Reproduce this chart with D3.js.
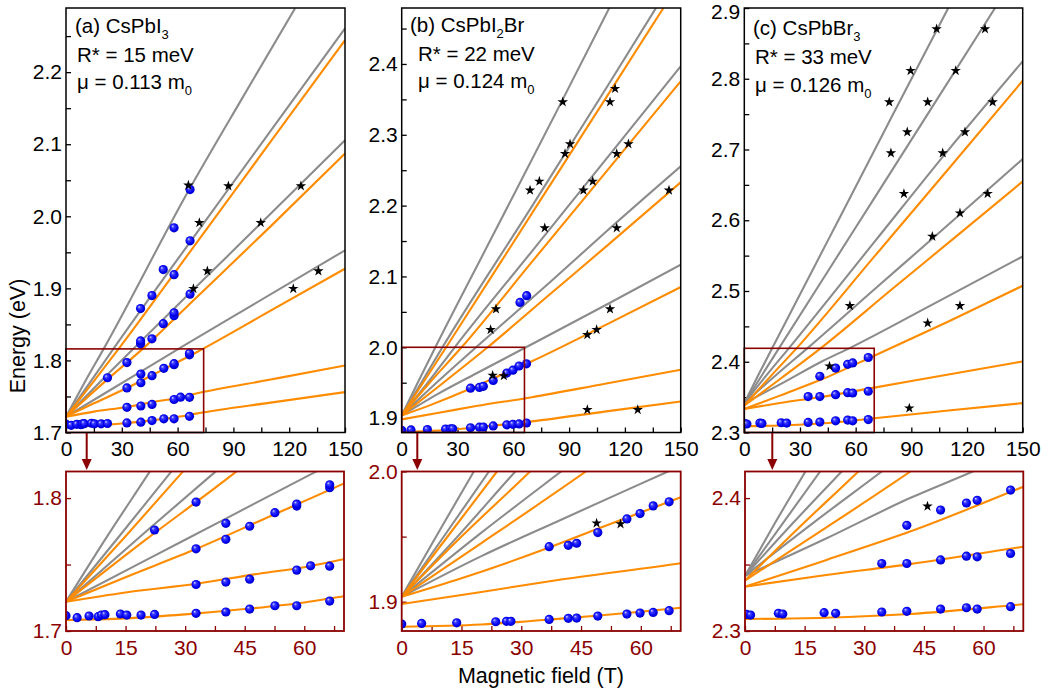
<!DOCTYPE html>
<html><head><meta charset="utf-8">
<script src="https://cdn.jsdelivr.net/npm/d3@7"></script>
<style>
body{margin:0;background:#fff;}
svg text{font-family:"Liberation Sans",Arial,sans-serif;}
</style></head><body>
<svg id="chart" width="1048" height="695"></svg>
<script>
// ---------------- DATA ----------------
const materials = ["CsPbI", "CsPbI", "CsPbBr"];
const materialSubs = ["3", "2", "3"];
const materialTails = ["", "Br", ""];
const panelLetters = ["(a)", "(b)", "(c)"];
const rydbergs = ["R* = 15 meV", "R* = 22 meV", "R* = 33 meV"];
const masses = ["\u03BC = 0.113 m", "\u03BC = 0.124 m", "\u03BC = 0.126 m"];

const xTicksMain = [0, 30, 60, 90, 120, 150];
const xTicksMainMinor = [15, 45, 75, 105, 135];
const xTicksInset = [0, 15, 30, 45, 60];
const xTicksInsetMinor = [7.5, 22.5, 37.5, 52.5, 67.5];
const yTicksA = [1.7, 1.8, 1.9, 2.0, 2.1, 2.2];
const yTicksB = [1.9, 2.0, 2.1, 2.2, 2.3, 2.4];
const yTicksC = [2.3, 2.4, 2.5, 2.6, 2.7, 2.8, 2.9];
const yTicksInsetA = [1.7, 1.8];
const yTicksInsetB = [1.9, 2.0];
const yTicksInsetC = [2.3, 2.4];

// Panel (a) CsPbI3
const dotsA = [
  [0,1.7115],[2.8,1.710],[5.8,1.7113],[8.1,1.7108],[8.9,1.712],[9.8,1.7123],[13.7,1.7128],[15.3,1.712],
  [18.9,1.712],[22.3,1.7125],[32.75,1.7133],[40.25,1.7143],[46.25,1.7165],[52.6,1.719],[58.1,1.719],[66.4,1.7225],
  [32.75,1.735],[40.25,1.7368],[46.25,1.739],[58.1,1.7458],[61.6,1.749],[66.4,1.7488],
  [32.75,1.7618],[40.25,1.769],[46.25,1.7788],[52.6,1.789],[58.1,1.794],[58.1,1.7955],[66.4,1.8078],[66.4,1.810],
  [22.3,1.776],[32.75,1.797],[40.25,1.781],
  [40.1,1.823],[40.1,1.827],[46.2,1.830],[52.3,1.851],[58.1,1.862],[58.1,1.866],[40.1,1.872],[46.2,1.890],
  [66.7,1.892],[52.3,1.926],[58.1,1.919],[66.7,1.966],[58.1,1.984],[66.7,2.037]
];
const starsA = [[65.8,2.043],[87.3,2.042],[126.3,2.042],[71.7,1.991],[104.7,1.991],[76,1.924],[135.7,1.924],[68.5,1.8995],[122.2,1.8995]];
const grayLinesA = [
  [[0,1.722],[20,1.7531],[40,1.7842],[62.7,1.8195],[100,1.8765],[150,1.9528]],
  [[0,1.722],[20,1.7745],[37.5,1.8195],[70,1.9021],[110,2.0036],[150,2.1056]],
  [[0,1.722],[13,1.7698],[26.4,1.8195],[70,1.976],[110,2.1185],[150,2.2606]],
  [[0,1.722],[10,1.7695],[21,1.8195],[66,2.036],[95,2.165],[123.1,2.2884]]
];
const orangeLinesA = [
  [[0,1.7083],[15,1.7095],[30,1.7125],[45,1.7165],[60,1.7215],[70,1.7262],[110,1.7415],[150,1.756]],
  [[0,1.722],[15,1.729],[32.75,1.7355],[48.9,1.7433],[60,1.748],[70,1.754],[110,1.7735],[150,1.793]],
  [[0,1.722],[15,1.7405],[33,1.762],[50,1.7845],[70,1.811],[110,1.869],[150,1.9273]],
  [[0,1.722],[20,1.7685],[42.7,1.8195],[70,1.887],[110,1.986],[150,2.087]],
  [[0,1.722],[15,1.7713],[29.3,1.8195],[70,1.9625],[110,2.1035],[150,2.2444]]
];

// Panel (b) CsPbI2Br
const dotsB = [
  [0,1.8828],[5.0,1.8833],[13.8,1.8838],[23.6,1.8846],[26.3,1.8849],[27.4,1.8849],[37.0,1.8864],[41.8,1.8872],
  [43.9,1.8874],[49.2,1.889],[56.5,1.8905],[59.8,1.8913],[63.1,1.8918],[67.1,1.8931],
  [37.0,1.9423],[41.8,1.9433],[43.9,1.9449],[49.2,1.9531],[56.5,1.9636],[59.8,1.9677],[63.1,1.9736],[67.1,1.9767],
  [63.6,2.0634],[67.2,2.0728]
];
const starsB = [
  [48.9,1.9603],[54.9,1.9597],
  [86.6,2.3463],[114.7,2.3652],[112,2.3463],[90.5,2.287],[87.8,2.2733],[121.9,2.287],[115.6,2.2733],
  [74,2.2343],[69,2.2216],[102.7,2.2343],[97.7,2.2216],[143.7,2.2216],[76.9,2.1684],[115.6,2.1684],
  [50.7,2.054],[47.8,2.0248],[112,2.054],[99.8,2.0177],[104.8,2.0248],[99.8,1.9118],[126.9,1.9118]
];
const grayLinesB = [
  [[0,1.9038],[20,1.935],[40,1.963],[66.8,2.0],[110,2.060],[150,2.1166]],
  [[0,1.9038],[20,1.953],[40,2.0],[80,2.0925],[110,2.1635],[150,2.2555]],
  [[0,1.9038],[14,1.950],[28.5,2.0],[70,2.1355],[110,2.266],[150,2.3967]],
  [[0,1.9038],[11,1.952],[21.9,2.0],[70,2.199],[110,2.366],[136.7,2.479]],
  [[0,1.9038],[9,1.952],[18.1,2.0],[50,2.163],[86.6,2.35],[111.6,2.479]]
];
const orangeLinesB = [
  [[0,1.8808],[20,1.8825],[40,1.887],[70,1.8954],[110,1.9095],[150,1.9235]],
  [[0,1.8982],[20,1.9075],[40,1.917],[70,1.9295],[110,1.949],[150,1.9683]],
  [[0,1.9038],[15,1.918],[36.5,1.941],[50,1.957],[70,1.9803],[110,2.032],[150,2.085]],
  [[0,1.9038],[20,1.945],[46.2,2.0],[80,2.0755],[110,2.1425],[150,2.2329]],
  [[0,1.9038],[15,1.950],[32.2,2.0],[70,2.1205],[110,2.248],[150,2.3755]],
  [[0,1.9038],[12,1.952],[23.9,2.0],[70,2.189],[110,2.3529],[140.7,2.479]]
];

// Panel (c) CsPbBr3
const dotsC = [
  [0.4,2.3125],[1.4,2.312],[8.4,2.3133],[9.5,2.3128],[19.9,2.3138],[22.8,2.3133],[34.4,2.3143],[40.7,2.3148],
  [49.2,2.3165],[55.7,2.3175],[58.4,2.3165],[66.8,2.3183],
  [34.4,2.3508],[40.7,2.3508],[49.2,2.3535],[55.7,2.3563],[58.4,2.3558],[66.8,2.3583],
  [40.7,2.3795],[49.2,2.391],[55.7,2.3963],[58.4,2.3983],[66.8,2.406]
];
const starsC = [
  [45.9,2.3938],
  [103.6,2.8703],[129.7,2.8703],[89.6,2.8114],[113.9,2.8114],[78.1,2.7671],[98.8,2.7671],[133.8,2.7671],
  [87.8,2.7247],[118.9,2.7247],[79,2.695],[106.9,2.695],[86,2.6375],[131.1,2.6375],[116.2,2.6101],
  [101.3,2.5771],[56.9,2.4791],[116.2,2.4791],[98.8,2.4546],[88.9,2.3344]
];
const grayLinesC = [
  [[0,2.3415],[20,2.369],[41.5,2.40],[57.3,2.42],[100,2.479],[150,2.5489]],
  [[0,2.3415],[17,2.381],[34.4,2.42],[70,2.502],[110,2.594],[150,2.6865]],
  [[0,2.3415],[12,2.381],[24.3,2.42],[70,2.569],[110,2.6995],[150,2.8246]],
  [[0,2.3415],[9.5,2.381],[18.9,2.42],[60,2.5897],[100,2.7549],[135.1,2.9]],
  [[0,2.3415],[7.5,2.381],[15.2,2.42],[50,2.5966],[80,2.749],[109.9,2.9]]
];
const orangeLinesC = [
  [[0,2.309],[20,2.310],[41.5,2.3128],[70,2.3201],[110,2.331],[150,2.3415]],
  [[0,2.3334],[20,2.342],[41.5,2.3503],[70,2.3634],[110,2.382],[150,2.4004]],
  [[0,2.3334],[10,2.343],[20.5,2.3535],[41.5,2.3748],[70,2.4085],[110,2.457],[150,2.5074]],
  [[0,2.338],[20,2.377],[41.6,2.42],[80,2.5035],[115,2.579],[150,2.6549]],
  [[0,2.338],[14,2.379],[28.5,2.42],[70,2.5485],[110,2.6725],[150,2.7972]]
];

// ---------------- LAYOUT ----------------
const GRAY = "#8c8c8c", ORANGE = "#ff8c00", DARKRED = "#8b0000";
const FONT = 21;
const panels = [
  {dots:dotsA, stars:starsA, gray:grayLinesA, orange:orangeLinesA,
   frame:[66,345,8,432.5], yDom:[1.7,2.289], yTicks:yTicksA,
   inset:[66,344,471.5,631], insetY:[1.7,1.82], insetYTicks:yTicksInsetA,
   box:[0,74,1.7,1.816], arrowX:86.7, label:[75,33], sub:[77,61.5,88.5]},
  {dots:dotsB, stars:starsB, gray:grayLinesB, orange:orangeLinesB,
   frame:[401.7,680.7,8,432.5], yDom:[1.8797,2.479], yTicks:yTicksB,
   inset:[401.7,680.7,471.5,631], insetY:[1.8775,2.0], insetYTicks:yTicksInsetB,
   box:[0,66,1.8797,2.0], arrowX:417.3, label:[410,32], sub:[418,60.5,88]},
  {dots:dotsC, stars:starsC, gray:grayLinesC, orange:orangeLinesC,
   frame:[744.3,1022.7,8,432.5], yDom:[2.3,2.9], yTicks:yTicksC,
   inset:[745,1023.3,471.5,631], insetY:[2.3,2.42], insetYTicks:yTicksInsetC,
   box:[0,70,2.3,2.419], arrowX:772.3, label:[753,35], sub:[755,63.5,91.5]}
];

const svg = d3.select("#chart");
const defs = svg.append("defs");
const grad = defs.append("radialGradient").attr("id","ball")
  .attr("cx","50%").attr("cy","50%").attr("r","55%").attr("fx","32%").attr("fy","30%");
grad.append("stop").attr("offset","0%").attr("stop-color","#d8d8ff");
grad.append("stop").attr("offset","28%").attr("stop-color","#3c3cff");
grad.append("stop").attr("offset","70%").attr("stop-color","#0000f4");
grad.append("stop").attr("offset","100%").attr("stop-color","#0000b0");

const fmt = d3.format(".1f");
const star = d3.symbol().type(d3.symbolStar).size(34);

function drawPlot(p, idx, rect, xDom, yDom, yMajor, xMajor, xMinor, isInset) {
  const [x0,x1,y0,y1] = rect;
  const x = d3.scaleLinear().domain(xDom).range([x0,x1]);
  const y = d3.scaleLinear().domain(yDom).range([y1,y0]);
  const id = "clip" + idx + (isInset ? "i" : "m");
  defs.append("clipPath").attr("id", id).append("rect")
    .attr("x",x0).attr("y",y0).attr("width",x1-x0).attr("height",y1-y0);
  const g = svg.append("g");
  const col = isInset ? DARKRED : "#000";

  const yMinor = [];
  for (let i=0;i<yMajor.length;i++){ yMinor.push(+(yMajor[i]+0.05).toFixed(2)); yMinor.push(+(yMajor[i]-0.05).toFixed(2)); }
  const yAll = Array.from(new Set(yMajor.concat(yMinor))).filter(v => v>=yDom[0]-1e-9 && v<=yDom[1]+1e-9).sort((a,b)=>a-b);
  const isMajor = (v, arr) => arr.some(m => Math.abs(m-v)<1e-6);
  const ya = d3.axisLeft(y).tickValues(yAll).tickSizeInner(-5).tickSizeOuter(0).tickPadding(4)
    .tickFormat(v => isMajor(v,yMajor) ? fmt(v) : "");
  const xAll = xMajor.concat(xMinor).filter(v => v>=xDom[0] && v<=xDom[1]).sort((a,b)=>a-b);
  const xa = d3.axisBottom(x).tickValues(xAll).tickSizeInner(-5).tickSizeOuter(0).tickPadding(9)
    .tickFormat(v => isMajor(v,xMajor) ? String(v) : "");
  const gy = g.append("g").attr("transform",`translate(${x0},0)`).call(ya);
  const gx = g.append("g").attr("transform",`translate(0,${y1})`).call(xa);
  [gx,gy].forEach(a => {
    a.select(".domain").remove();
    a.selectAll("line").attr("stroke",col).attr("stroke-width",1.3);
    a.selectAll("text").attr("fill",col).attr("font-size",FONT)
      .style("font-family",'"Liberation Sans",Arial,sans-serif');
  });
  // keep a label that sits at the very top of the page inside the picture
  gy.selectAll(".tick").each(function(v){
    if (y(v) < 12) d3.select(this).select("text").attr("dy","0.48em");
  });

  const plot = g.append("g").attr("clip-path",`url(#${id})`);
  const line = d3.line().x(d=>x(d[0])).y(d=>y(d[1])).curve(d3.curveMonotoneX);
  plot.selectAll("path.gl").data(p.gray).join("path").attr("class","gl")
    .attr("d",line).attr("fill","none").attr("stroke",GRAY).attr("stroke-width",2.1);
  plot.selectAll("path.ol").data(p.orange).join("path").attr("class","ol")
    .attr("d",line).attr("fill","none").attr("stroke",ORANGE).attr("stroke-width",2.1);
  plot.selectAll("circle").data(p.dots).join("circle")
    .attr("cx",d=>x(d[0])).attr("cy",d=>y(d[1])).attr("r",4.6).attr("fill","url(#ball)");
  plot.selectAll("path.st").data(p.stars).join("path").attr("class","st")
    .attr("d",star).attr("transform",d=>`translate(${x(d[0])},${y(d[1])})`).attr("fill","#000");

  if (!isInset) {
    const b = p.box;
    g.append("rect").attr("x",x(b[0])).attr("y",y(b[3])).attr("width",x(b[1])-x(b[0]))
      .attr("height",y(b[2])-y(b[3])).attr("fill","none").attr("stroke",DARKRED).attr("stroke-width",1.6);
  }
  g.append("rect").attr("x",x0).attr("y",y0).attr("width",x1-x0).attr("height",y1-y0)
    .attr("fill","none").attr("stroke",col).attr("stroke-width",isInset?1.8:1.5);
}

panels.forEach((p, i) => {
  drawPlot(p, i, p.frame, [0,150], p.yDom, p.yTicks, xTicksMain, xTicksMainMinor, false);
  drawPlot(p, i, p.inset, [0,70], p.insetY, p.insetYTicks, xTicksInset, xTicksInsetMinor, true);

  const t = svg.append("text").attr("x",p.label[0]).attr("y",p.label[1]).attr("font-size",20.5).attr("fill","#000");
  t.append("tspan").text(panelLetters[i] + " " + materials[i]);
  t.append("tspan").attr("font-size",13).attr("dy",6).text(materialSubs[i]);
  if (materialTails[i]) t.append("tspan").attr("dy",-6).text(materialTails[i]);
  svg.append("text").attr("x",p.sub[0]).attr("y",p.sub[1]).attr("font-size",20.5).text(rydbergs[i]);
  const m = svg.append("text").attr("x",p.sub[0]).attr("y",p.sub[2]).attr("font-size",20.5);
  m.append("tspan").text(masses[i]);
  m.append("tspan").attr("font-size",13).attr("dy",6).text("0");

  svg.append("line").attr("x1",p.arrowX).attr("x2",p.arrowX).attr("y1",433).attr("y2",461)
    .attr("stroke",DARKRED).attr("stroke-width",2);
  svg.append("path").attr("d",`M${p.arrowX-5},459 L${p.arrowX+5},459 L${p.arrowX},470 Z`).attr("fill",DARKRED);
});

svg.append("text").attr("transform","translate(25,336) rotate(-90)").attr("text-anchor","middle")
  .attr("font-size",21.5).text("Energy (eV)");
svg.append("text").attr("x",541).attr("y",683).attr("text-anchor","middle")
  .attr("font-size",21.5).text("Magnetic field (T)");
</script>
</body></html>
